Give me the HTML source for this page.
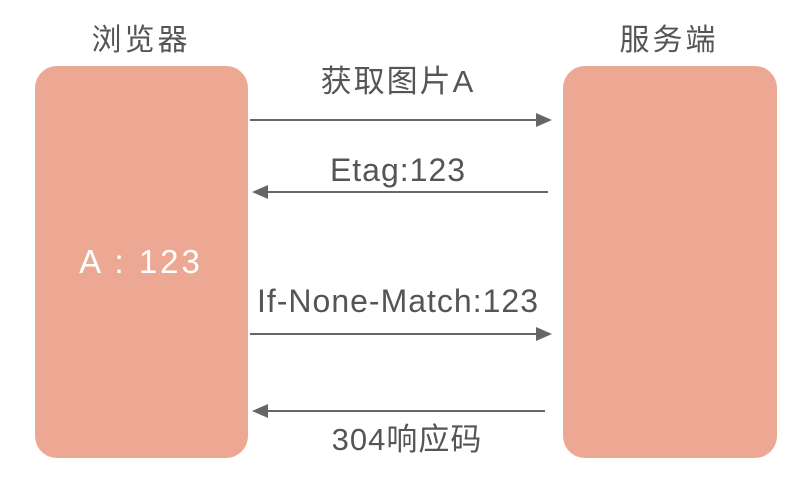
<!DOCTYPE html>
<html><head><meta charset="utf-8"><style>
body{margin:0;width:810px;height:482px;background:#fff;overflow:hidden;position:relative;font-family:"Liberation Sans","Noto Sans CJK SC",sans-serif;color:#555}
.box{position:absolute;background:#eda894;border-radius:22px;top:66px;height:392px}
.t{position:absolute;white-space:nowrap;transform:translateX(-50%);line-height:1}
</style></head><body>
<div class="box" style="left:35px;width:213px"></div>
<div class="box" style="left:563px;width:214px"></div>
<div class="t" style="left:141px;top:26px;font-size:30px;letter-spacing:3px">浏览器</div>
<div class="t" style="left:669px;top:26px;font-size:30px;letter-spacing:3px">服务端</div>
<div class="t" style="left:398px;top:66px;font-size:31px;letter-spacing:2px">获取图片A</div>
<div class="t" style="left:398px;top:154px;font-size:32px;letter-spacing:1px">Etag:123</div>
<div class="t" style="left:398px;top:285px;font-size:32px;letter-spacing:1px">If-None-Match:123</div>
<div class="t" style="left:407px;top:424px;font-size:31px;letter-spacing:1px">304响应码</div>
<div class="t" style="left:141px;top:245px;font-size:33px;color:#fff;letter-spacing:3px">A : 123</div>
<svg width="810" height="482" style="position:absolute;left:0;top:0">
<g stroke="#666" stroke-width="2" fill="#666">
<line x1="250" y1="120" x2="538" y2="120"/><polygon points="536,113 552,120 536,127" stroke="none"/>
<line x1="266" y1="192" x2="548" y2="192"/><polygon points="268,185 252,192 268,199" stroke="none"/>
<line x1="250" y1="334" x2="538" y2="334"/><polygon points="536,327 552,334 536,341" stroke="none"/>
<line x1="266" y1="411" x2="545" y2="411"/><polygon points="268,404 252,411 268,418" stroke="none"/>
</g></svg>
</body></html>
